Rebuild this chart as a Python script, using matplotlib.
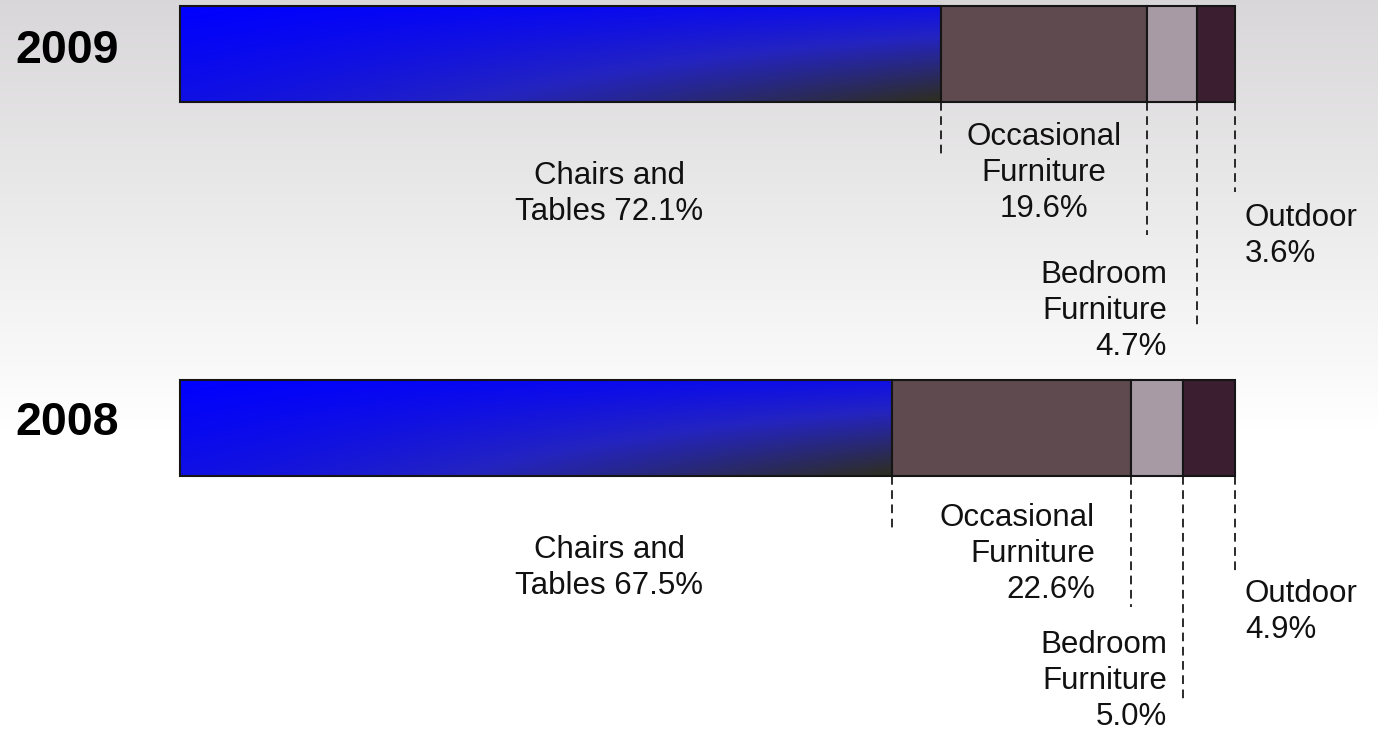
"""
Sales mix by product category, 2009 vs 2008, as stacked horizontal bars.
"""
import matplotlib.pyplot as plt
import numpy as np
from matplotlib.colors import LinearSegmentedColormap

plt.rcParams["font.family"] = ["Liberation Sans", "DejaVu Sans"]

years = ["2009", "2008"]
categories = ["Chairs and Tables", "Occasional Furniture", "Bedroom Furniture", "Outdoor"]
share_2009 = [72.1, 19.6, 4.7, 3.6]
share_2008 = [67.5, 22.6, 5.0, 4.9]
label_fmt = ["Chairs and\nTables {:.1f}%", "Occasional\nFurniture\n{:.1f}%",
             "Bedroom\nFurniture\n{:.1f}%", "Outdoor\n{:.1f}%"]

seg_colors = [None, "#5e4a4f", "#a79aa5", "#3b1f31"]

# layout, figure pixels
W, H = 1378, 736
row_px = 374           # distance between bar centres
bar_px = 96
top_center = 54
drops = {"2009": [53, 133, 226, 90], "2008": [52, 131, 224, 97]}
label_pos = {
    "2009": [(609, 194, "center"), (1044, 173, "center"), (1167, 311, "right"), (1245, 236, "left")],
    "2008": [(609, 568, "center"), (1095, 554, "right"), (1167, 681, "right"), (1245, 612, "left")],
}
year_pos = {"2009": 51, "2008": 423}

fig = plt.figure(figsize=(W / 100, H / 100), dpi=100)

# background: light grey fading to white
bg = fig.add_axes([0, 0, 1, 1], zorder=0)
yy = np.arange(H)
f = np.clip(yy / 430.0, 0, 1)
top = np.array([0.85, 0.843, 0.85])
col = top[None, :] * (1 - f[:, None]) + f[:, None]
bg.imshow(col[:, None, :], aspect="auto", extent=[0, 1, 0, 1])
bg.axis("off")

ax = fig.add_axes([180 / W, 0, 1055 / W, 1], zorder=1)
ax.patch.set_alpha(0)
y_top = -top_center / row_px
y_bot = (H - top_center) / row_px
h = bar_px / row_px

cmap = LinearSegmentedColormap.from_list(
    "chairs", [(0, (0, 0, 1)), (0.45, (0.14, 0.14, 0.76)), (1, (0.18, 0.18, 0.12))])
u, v = np.meshgrid(np.linspace(0, 1, 300), np.linspace(0, 1, 60))
t = np.clip(0.2 * u + 0.2 * v + 0.6 * u ** 1.3 * v, 0, 1)
grad = cmap(t)

for row, (yr, vals) in enumerate(zip(years, [share_2009, share_2008])):
    left = np.concatenate([[0], np.cumsum(vals)[:-1]])
    for i, (l, w) in enumerate(zip(left, vals)):
        fc = seg_colors[i] if seg_colors[i] else "none"
        bars = ax.barh(row, w, left=l, height=h, color=fc, edgecolor="#151515",
                       linewidth=1.5, zorder=3, clip_on=False)
        if i == 0:
            im = ax.imshow(grad, extent=[l, l + w, row + h / 2, row - h / 2],
                           aspect="auto", zorder=2)
            im.set_clip_path(bars.patches[0])
        # dashed leader line from bar bottom
        edge = l + w
        ax.vlines(edge, row + h / 2, row + h / 2 + drops[yr][i] / row_px,
                  colors="#111111", linestyles=(0, (5, 3.2)), linewidth=1.25,
                  zorder=4, clip_on=False)
        # label
        x, y, ha = label_pos[yr][i]
        fig.text(x / W, 1 - y / H, label_fmt[i].format(w), ha=ha, va="center",
                 fontsize=22.5, color="#111111", linespacing=1.27)
    fig.text(15 / W, 1 - year_pos[yr] / H, yr, ha="left", va="center",
             fontsize=33.5, fontweight="bold", color="#000000")

ax.set_xlim(0, 100)
ax.set_ylim(y_bot, y_top)
ax.axis("off")

fig.savefig("out.png", dpi=100)
